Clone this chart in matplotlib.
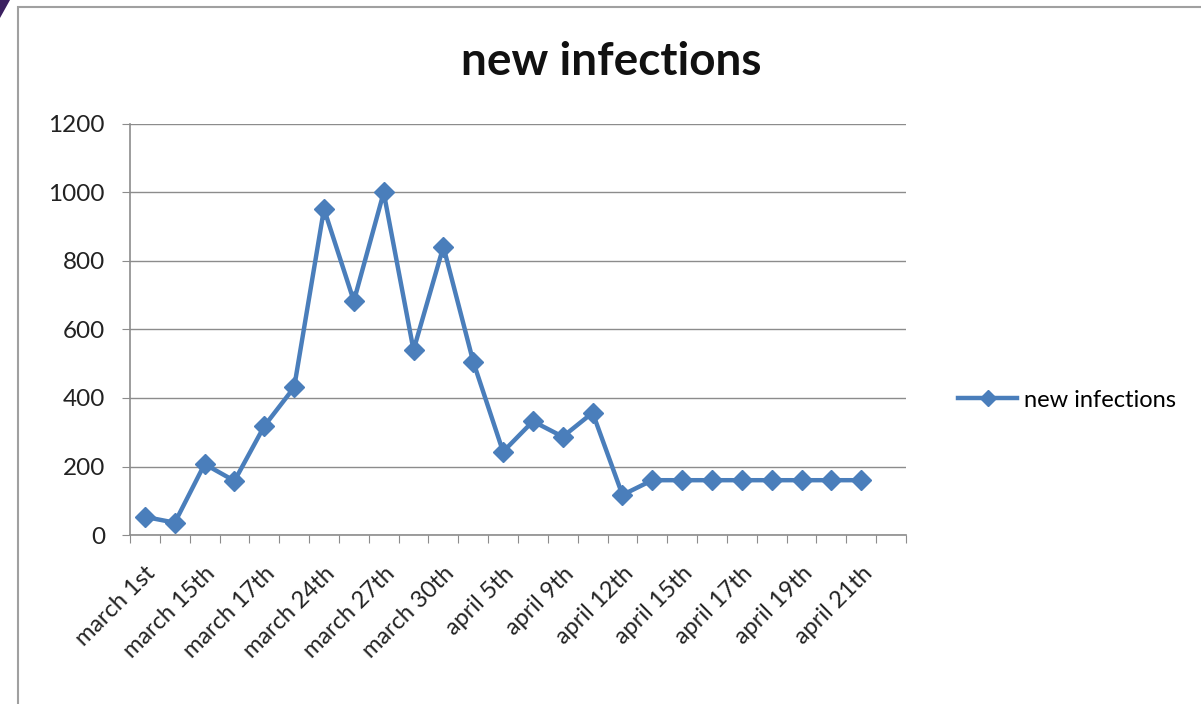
import matplotlib.pyplot as plt
import matplotlib.patches as patches
import numpy as np

# Data (26 categories, last one empty)
shown_labels = ['march 1st', 'march 15th', 'march 17th', 'march 24th', 'march 27th',
                'march 30th', 'april 5th', 'april 9th', 'april 12th', 'april 15th',
                'april 17th', 'april 19th', 'april 21th']
new_infections = [53, 36, 207, 158, 318, 431, 952, 683, 1000, 540, 842, 506, 243,
                  332, 287, 357, 117, 160, 160, 160, 160, 160, 160, 160, 160]
n_categories = 26
y_ticks = [0, 200, 400, 600, 800, 1000, 1200]

plt.rcParams['font.family'] = ['Lato', 'DejaVu Sans']

fig = plt.figure(figsize=(12.01, 7.04), dpi=100)
ax = fig.add_axes([130 / 1201, 1 - 535 / 704, 776 / 1201, 411 / 704])

blue = '#4a7ebb'
x = np.arange(len(new_infections))
ax.plot(x, new_infections, color=blue, linewidth=3.2, marker='D', markersize=10,
        label='new infections', zorder=3)

ax.set_xlim(-0.5, n_categories - 0.5)
ax.set_ylim(0, 1200)

# Gridlines
ax.set_yticks(y_ticks)
ax.yaxis.grid(True, color='#8c8c8c', linewidth=1)
ax.set_axisbelow(True)
ax.tick_params(axis='y', length=6, color='#8c8c8c', labelsize=17.5, pad=12, labelcolor='#222222')

# Tick marks at category boundaries, labels on every other category
ax.set_xticks(np.arange(-0.5, n_categories, 1))
ax.set_xticklabels([])
ax.tick_params(axis='x', which='major', length=6, color='#8c8c8c')
ax.set_xticks(np.arange(0, n_categories, 2), minor=True)
ax.set_xticklabels(shown_labels, minor=True, rotation=45, ha='right',
                   rotation_mode='anchor', fontsize=17, color='#222222')
ax.tick_params(axis='x', which='minor', length=0, pad=20)

for side in ['top', 'right']:
    ax.spines[side].set_visible(False)
for side in ['left', 'bottom']:
    ax.spines[side].set_color('#8c8c8c')
    ax.spines[side].set_linewidth(1.2)

fig.text(611 / 1201, 1 - 62 / 704, 'new infections', ha='center', va='center',
         fontsize=33, fontweight='bold', color='#111111')

ax.legend(loc='center left', bbox_to_anchor=(937 / 1201, 1 - 400 / 704),
          bbox_transform=fig.transFigure, frameon=False, fontsize=17,
          handlelength=2.5, handletextpad=0.3, markerscale=0.8)

# Outer chart border
fig.patches.append(patches.Rectangle((18 / 1201, -0.05), 1.2, 1 - 7 / 704 + 0.05,
                                     transform=fig.transFigure, fill=False,
                                     edgecolor='#a0a0a0', linewidth=1.5))
fig.patches.append(patches.Polygon([(0, 1), (10 / 1201, 1), (0, 1 - 18 / 704)],
                                   closed=True, transform=fig.transFigure,
                                   facecolor='#3b2060', edgecolor='none'))

plt.savefig('out.png', dpi=100)
